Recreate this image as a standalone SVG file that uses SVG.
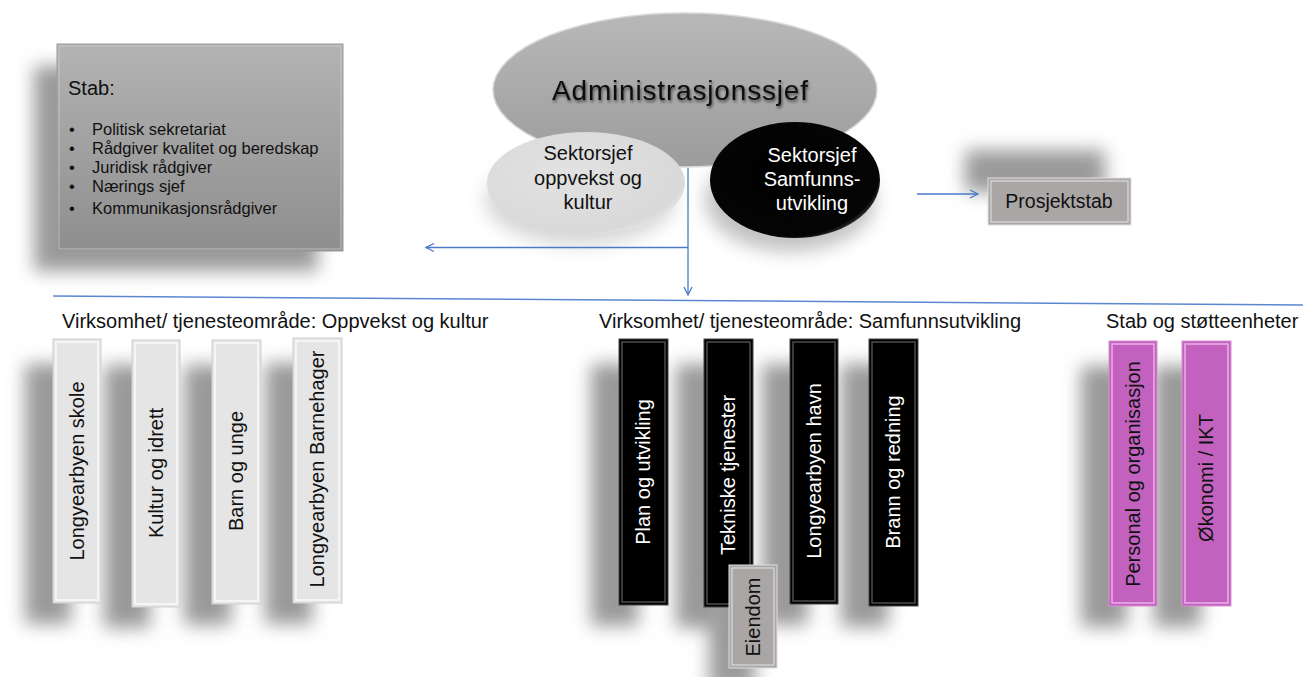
<svg xmlns="http://www.w3.org/2000/svg" width="1303" height="677" viewBox="0 0 1303 677">
<defs>
  <filter id="blur" x="-50%" y="-50%" width="200%" height="200%"><feGaussianBlur stdDeviation="9"/></filter>
  <filter id="tshadow" x="-10%" y="-30%" width="120%" height="160%"><feGaussianBlur in="SourceAlpha" stdDeviation="1.5"/><feOffset dx="1" dy="2"/><feComponentTransfer><feFuncA type="linear" slope="0.6"/></feComponentTransfer><feMerge><feMergeNode/><feMergeNode in="SourceGraphic"/></feMerge></filter>
  <linearGradient id="gStab" x1="0" y1="0" x2="0" y2="1"><stop offset="0" stop-color="#b3b3b3"/><stop offset="1" stop-color="#8e8e8e"/></linearGradient>
  <linearGradient id="gAdmin" x1="0" y1="0" x2="0" y2="1"><stop offset="0" stop-color="#b8b8b8"/><stop offset="1" stop-color="#9c9c9c"/></linearGradient>
  <radialGradient id="gLight" cx="0.4" cy="0.4" r="0.7"><stop offset="0" stop-color="#e2e2e2"/><stop offset="0.85" stop-color="#d9d9d9"/><stop offset="1" stop-color="#f2f2f2"/></radialGradient>
  <radialGradient id="gDark" cx="0.45" cy="0.45" r="0.6"><stop offset="0" stop-color="#000"/><stop offset="0.9" stop-color="#050505"/><stop offset="1" stop-color="#555"/></radialGradient>
  <marker id="arr" viewBox="0 0 10 10" refX="9" refY="5" markerWidth="10" markerHeight="10" markerUnits="userSpaceOnUse" orient="auto"><path d="M1,1 L9,5 L1,9" fill="none" stroke="#4a7ac8" stroke-width="1.3"/></marker>
  <style>
    text{font-family:"Liberation Sans",Arial,sans-serif;}
    .shadow{fill:#9a9a9a;filter:url(#blur);}
    .lbar{fill:#e5e5e5;stroke:#cfcfcf;stroke-width:1;}
    .dbar{fill:#000;stroke:#444;stroke-width:1;}
    .mbar{fill:#c262be;stroke:#d890d6;stroke-width:1;}
    .gbox{fill:#aaa6a6;stroke:#ddd;stroke-width:1;}
    .bevL{fill:none;stroke:#fff;stroke-width:1.5;opacity:0.8;}
    .bevD{fill:none;stroke:#555;stroke-width:1.5;opacity:0.9;}
    .bevM{fill:none;stroke:#f0b8ee;stroke-width:1.5;opacity:0.9;}
    .bt{font-size:20px;fill:#111;text-anchor:middle;dominant-baseline:central;}
    .btw{font-size:20px;fill:#fff;text-anchor:middle;dominant-baseline:central;}
    .hdr{font-size:20px;fill:#111;}
    .li{font-size:16.5px;fill:#111;}
    .conn{fill:none;stroke:#4a7ac8;stroke-width:1.3;}
  </style>
</defs>
<rect width="1303" height="677" fill="#fff"/>

<!-- shadows -->
<g id="shadows">
  <rect class="shadow" x="34" y="66" width="284" height="205"/>
  <rect class="shadow" x="965" y="150" width="140" height="42"/>
  <ellipse class="shadow" cx="790" cy="200" rx="85" ry="52" opacity="0.6"/>
  <ellipse class="shadow" cx="580" cy="200" rx="95" ry="45" opacity="0.4"/>
  <rect class="shadow" x="25" y="364" width="46" height="260"/>
  <rect class="shadow" x="104" y="365" width="46" height="263"/>
  <rect class="shadow" x="184" y="365" width="47" height="260"/>
  <rect class="shadow" x="265" y="363" width="47" height="261"/>
  <rect class="shadow" x="591" y="364" width="47" height="262"/>
  <rect class="shadow" x="676" y="364" width="47" height="264"/>
  <rect class="shadow" x="762" y="364" width="46" height="261"/>
  <rect class="shadow" x="841" y="364" width="47" height="263"/>
  <rect class="shadow" x="709" y="590" width="46" height="100"/>
  <rect class="shadow" x="1081" y="366" width="46" height="261"/>
  <rect class="shadow" x="1154" y="366" width="47" height="261"/>
</g>

<!-- connectors -->
<g id="connectors">
  <path class="conn" d="M688,168 L688,295" marker-end="url(#arr)"/>
  <path class="conn" d="M688,247.5 L426,247.5" marker-end="url(#arr)"/>
  <path class="conn" d="M917,194 L978,194" marker-end="url(#arr)"/>
  <path d="M53,296 L1303,305" fill="none" stroke="#5b86d0" stroke-width="1.5"/>
</g>

<g id="stab">
  <rect x="57" y="44" width="286" height="207" fill="url(#gStab)" stroke="#9a9a9a"/>
  <rect x="59" y="46" width="282" height="203" fill="none" stroke="#d0d0d0" stroke-width="1" opacity="0.7"/>
  <text x="68" y="95" font-size="20" fill="#111">Stab:</text>
  <g class="li">
    <text x="69" y="135">•</text><text x="92" y="135">Politisk sekretariat</text>
    <text x="69" y="154">•</text><text x="92" y="154">Rådgiver kvalitet og beredskap</text>
    <text x="69" y="173">•</text><text x="92" y="173">Juridisk rådgiver</text>
    <text x="69" y="192">•</text><text x="92" y="192">Nærings sjef</text>
    <text x="69" y="214">•</text><text x="92" y="214">Kommunikasjonsrådgiver</text>
  </g>
</g>

<g id="admin">
  <ellipse cx="685" cy="90" rx="192" ry="77" fill="url(#gAdmin)" stroke="#d8d8d8" stroke-width="1.5"/>
  <text x="680" y="100" font-size="28" fill="#111" text-anchor="middle" textLength="256" filter="url(#tshadow)">Administrasjonssjef</text>
</g>

<g id="sektor-oppvekst">
  <ellipse cx="586" cy="183" rx="99" ry="51" fill="url(#gLight)"/>
  <text x="588" y="160" font-size="20" fill="#111" text-anchor="middle">Sektorsjef</text>
  <text x="588" y="185" font-size="20" fill="#111" text-anchor="middle">oppvekst og</text>
  <text x="588" y="209" font-size="20" fill="#111" text-anchor="middle">kultur</text>
</g>

<g id="sektor-samfunn">
  <ellipse cx="795" cy="180" rx="85" ry="58" fill="url(#gDark)"/>
  <text x="812" y="162" font-size="20" fill="#fff" text-anchor="middle">Sektorsjef</text>
  <text x="812" y="186" font-size="20" fill="#fff" text-anchor="middle">Samfunns-</text>
  <text x="812" y="210" font-size="20" fill="#fff" text-anchor="middle">utvikling</text>
</g>

<g id="prosjektstab">
  <rect x="988" y="178" width="143" height="47" class="gbox"/>
  <rect x="991" y="181" width="137" height="41" fill="none" stroke="#e6e6e6" stroke-width="1.2" opacity="0.8"/>
  <text x="1059" y="208" font-size="19.5" fill="#111" text-anchor="middle">Prosjektstab</text>
</g>

<g id="headers">
  <text class="hdr" x="62" y="328">Virksomhet/ tjenesteområde: Oppvekst og kultur</text>
  <text class="hdr" x="599" y="328">Virksomhet/ tjenesteområde: Samfunnsutvikling</text>
  <text class="hdr" x="1106" y="328">Stab og støtteenheter</text>
</g>

<!-- Oppvekst bars -->
<g id="b-skole"><rect class="lbar" x="53" y="339" width="48" height="264"/><rect class="bevL" x="56" y="342" width="42" height="258"/><text class="bt" transform="translate(77,471) rotate(-90)">Longyearbyen skole</text></g>
<g id="b-kultur"><rect class="lbar" x="132" y="340" width="48" height="267"/><rect class="bevL" x="135" y="343" width="42" height="261"/><text class="bt" transform="translate(156,473) rotate(-90)">Kultur og idrett</text></g>
<g id="b-barn"><rect class="lbar" x="212" y="340" width="49" height="264"/><rect class="bevL" x="215" y="343" width="43" height="258"/><text class="bt" transform="translate(236,471) rotate(-90)">Barn og unge</text></g>
<g id="b-barnehager"><rect class="lbar" x="293" y="338" width="49" height="265"/><rect class="bevL" x="296" y="341" width="43" height="259"/><text class="bt" transform="translate(317,469) rotate(-90)">Longyearbyen Barnehager</text></g>

<!-- Samfunn bars -->
<g id="b-plan"><rect class="dbar" x="619" y="339" width="49" height="266"/><rect class="bevD" x="622" y="342" width="43" height="260"/><text class="btw" transform="translate(643,472) rotate(-90)">Plan og utvikling</text></g>
<g id="b-tekniske"><rect class="dbar" x="704" y="339" width="49" height="268"/><rect class="bevD" x="707" y="342" width="43" height="262"/><text class="btw" transform="translate(728,475) rotate(-90)">Tekniske tjenester</text></g>
<g id="b-havn"><rect class="dbar" x="790" y="339" width="48" height="265"/><rect class="bevD" x="793" y="342" width="42" height="259"/><text class="btw" transform="translate(814,471) rotate(-90)">Longyearbyen havn</text></g>
<g id="b-brann"><rect class="dbar" x="869" y="339" width="49" height="267"/><rect class="bevD" x="872" y="342" width="43" height="261"/><text class="btw" transform="translate(893,472) rotate(-90)">Brann og redning</text></g>
<g id="b-eiendom"><rect class="gbox" x="729" y="565" width="48" height="103"/><rect x="732" y="568" width="42" height="97" fill="none" stroke="#e6e6e6" stroke-width="1.2" opacity="0.8"/><text class="bt" transform="translate(753,617) rotate(-90)">Eiendom</text></g>

<!-- Stab og støtte bars -->
<g id="b-personal"><rect class="mbar" x="1109" y="341" width="48" height="265"/><rect class="bevM" x="1112" y="344" width="42" height="259"/><text class="bt" transform="translate(1133,474) rotate(-90)">Personal og organisasjon</text></g>
<g id="b-okonomi"><rect class="mbar" x="1182" y="341" width="49" height="265"/><rect class="bevM" x="1185" y="344" width="43" height="259"/><text class="bt" transform="translate(1206,478) rotate(-90)">Økonomi / IKT</text></g>
</svg>
